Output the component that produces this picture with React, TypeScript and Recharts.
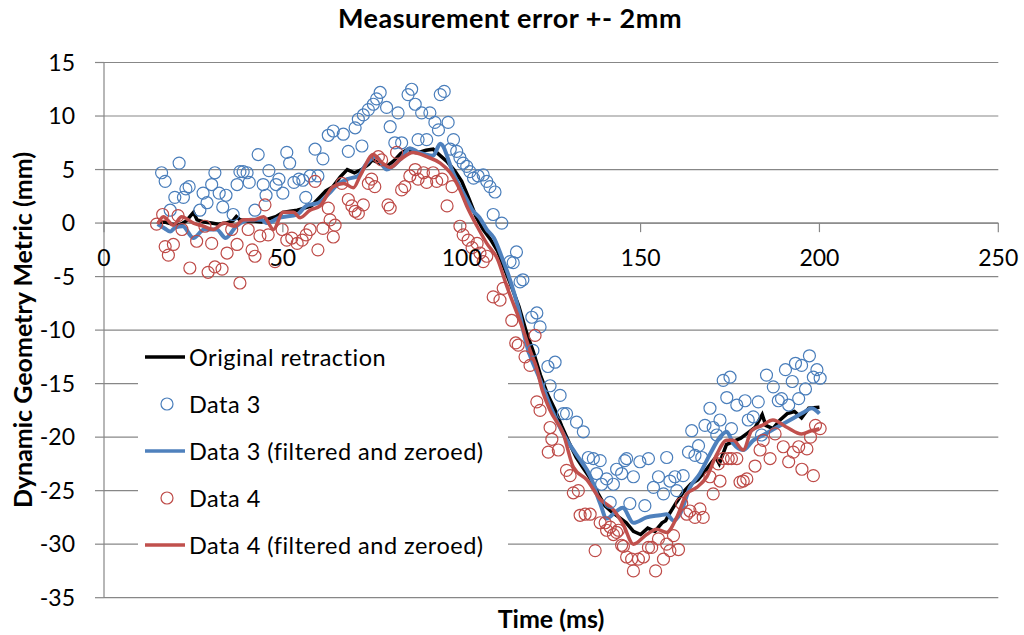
import React from "react";
import {
  ComposedChart,
  Line,
  Scatter,
  XAxis,
  YAxis,
  CartesianGrid,
  Legend,
  ReferenceLine,
  ReferenceDot,
} from "recharts";

// [time (ms), metric (mm)]
const originalRetraction: [number, number][] = [
  [15, 0], [17, 0.1], [19, -0.1], [21, -0.2], [23, 0.2], [25, 1.0], [26, 0.3], [28, 0.1], [30, 0], [32, -0.1],
  [34, 0], [36, 0.2], [37, 0.6], [38, 0.3], [40, 0.2], [42, 0.2], [44, 0.1], [46, 0.4], [48, 0.6], [50, 1.0],
  [52, 1.1], [54, 1.2], [56, 1.4], [58, 1.6], [60, 2.3], [62, 3.0], [64, 3.4], [66, 4.3], [68, 5.0], [70, 4.7],
  [72, 5.0], [74, 5.5], [75, 5.9], [77, 5.6], [79, 5.3], [81, 5.8], [83, 6.5], [85, 6.9], [87, 6.6], [88, 6.6],
  [90, 6.8], [92, 6.9], [94, 6.3], [96, 5.7], [98, 4.9], [100, 3.9], [102, 2.3], [104, 0.6], [106, -0.6], [108, -1.5],
  [110, -2.6], [112, -4.3], [114, -6.0], [116, -7.8], [118, -10.1], [120, -12.0], [122, -14.2], [124, -16.0], [126, -17.4], [128, -19.0],
  [130, -20.5], [132, -21.9], [134, -22.9], [136, -23.9], [138, -25.2], [140, -26.4], [142, -27.0], [144, -27.5], [146, -28.0], [148, -28.8],
  [150, -29.1], [152, -28.5], [154, -28.8], [156, -28.0], [157, -27.8], [158, -27.2], [160, -26.1], [162, -25.1], [164, -24.4], [166, -24.0],
  [168, -23.2], [170, -22.3], [171, -21.9], [172, -22.5], [174, -20.7], [176, -20.4], [178, -20.1], [180, -19.6], [182, -19.1], [184, -17.9],
  [185, -18.9], [187, -19.2], [189, -18.4], [191, -17.8], [193, -17.6], [195, -18.2], [197, -17.3], [200, -17.2],
];

const data3: [number, number][] = [
  [16.1, 4.7], [17.1, 3.9], [18.5, 1.2], [19.8, 2.4], [21.0, 5.6], [22.2, 2.4], [22.9, 3.2], [23.8, 3.4], [26.8, 1.2], [27.7, 2.8],
  [28.8, 1.9], [30.1, 3.6], [31.0, 4.7], [32.2, 2.8], [33.2, 1.5], [34.1, 2.6], [36.1, 0.8], [37.2, 3.6], [38.0, 4.8], [38.9, 4.8],
  [40.0, 4.7], [40.6, 3.8], [42.2, 1.2], [43.1, 6.4], [44.5, 3.6], [45.3, 2.6], [46.1, 4.9], [48.1, 3.6], [48.9, 4.1], [50.0, 2.8],
  [51.1, 6.6], [51.9, 5.6], [53.1, 3.8], [54.5, 4.1], [55.6, 4.0], [56.4, 2.4], [57.6, 4.4], [59.0, 6.9], [59.8, 4.4], [61.2, 6.0],
  [62.7, 8.2], [64.1, 8.6], [66.9, 8.3], [68.3, 6.7], [70.2, 8.9], [71.1, 9.7], [72.1, 7.2], [72.5, 10.1], [73.9, 10.6], [75.3, 11.1],
  [76.2, 11.6], [77.2, 12.2], [79.0, 10.8], [80.0, 9.0], [81.3, 7.5], [82.2, 10.3], [83.2, 7.5], [85.0, 12.0], [86.0, 12.5], [87.0, 11.1],
  [87.8, 7.8], [88.8, 10.3], [90.2, 7.8], [91.1, 10.3], [92.5, 9.4], [93.5, 8.7], [94.0, 12.0], [95.1, 12.3], [96.2, 9.4], [96.8, 6.9],
  [97.7, 7.8], [98.6, 6.7], [99.5, 6.1], [100.4, 5.6], [101.4, 5.3], [102.3, 4.8], [103.3, 4.2], [104.6, 4.4], [106.0, 4.5], [107.0, 3.9],
  [107.9, 3.4], [108.8, 0.8], [109.3, 2.9], [111.2, 0], [113.5, -3.6], [114.4, -3.7], [115.3, -2.7], [116.3, -5.5], [117.1, -5.3], [119.6, -8.8],
  [119.9, -11.9], [121.0, -8.4], [121.9, -9.7], [124.1, -13.4], [124.7, -15.2], [126.1, -13.0], [127.5, -16.1], [128.4, -17.8], [129.3, -17.8], [132.1, -18.6],
  [134.0, -19.5], [135.4, -21.9], [136.8, -22.0], [137.7, -23.4], [138.7, -22.2], [139.1, -24.4], [140.5, -23.9], [141.5, -26.1], [142.4, -24.4], [143.3, -23.0],
  [144.7, -23.4], [145.6, -22.2], [146.1, -22.0], [147.0, -26.2], [148.0, -23.7], [149.8, -22.3], [151.2, -26.4], [152.2, -22.0], [153.6, -24.7], [155.0, -23.7],
  [156.4, -25.3], [157.3, -21.9], [158.2, -24.1], [159.6, -23.7], [160.1, -25.0], [161.9, -23.6], [163.4, -21.4], [164.3, -19.4], [165.2, -21.7], [166.2, -20.8],
  [167.1, -21.9], [168.0, -18.9], [169.4, -17.3], [170.3, -19.1], [171.3, -19.8], [172.2, -18.4], [173.1, -14.7], [174.1, -16.3], [175.0, -14.4], [175.4, -19.2],
  [176.9, -17.0], [179.2, -16.6], [180.1, -18.4], [181.5, -18.1], [182.9, -16.7], [183.8, -19.8], [185.2, -14.2], [187.1, -15.3], [188.5, -16.6], [189.4, -16.4],
  [190.5, -13.7], [191.4, -17.0], [192.4, -14.8], [193.3, -13.1], [194.2, -16.4], [195.0, -13.3], [196.1, -15.5], [197.2, -12.4], [198.3, -14.4], [199.3, -13.7],
  [200.2, -14.5],
];

const data3Filtered: [number, number][] = [
  [15, -0.1], [17, -0.5], [18.5, -0.8], [20, -0.4], [22, -0.3], [25, -1.4], [28, -0.6], [31.5, -0.6], [34, -1.4], [37, -0.3],
  [41, 0.3], [44, 0.3], [45.5, 0], [49, 0.5], [54, 0.8], [56.5, 1.6], [60, 1.9], [63, 2.8], [65, 3.5], [68, 4.1],
  [71, 4.4], [73.5, 5.6], [76, 6.2], [79, 5.0], [82.7, 5.9], [85.5, 7.0], [88, 6.6], [92, 6.3], [94, 7.4], [97.6, 4.7],
  [101.4, 2.2], [103, 1.2], [105, 0.5], [107, -0.6], [109, -1.4], [111, -3.0], [113, -4.8], [116, -8.2], [118, -11.2], [122, -14.7],
  [125, -17.3], [128.4, -19.7], [132, -21.6], [136, -23.7], [138.7, -26.2], [140.5, -27.6], [143.3, -26.9], [145, -26.6], [148, -28.0], [151.7, -27.5],
  [155.4, -27.3], [157.3, -27.2], [159.2, -27.8], [161, -27.2], [163.8, -24.7], [166.6, -23.4], [169.4, -21.6], [172.2, -20.0], [174.1, -19.5], [175.9, -20.6],
  [178.7, -21.2], [181.5, -20.3], [184.3, -19.8], [188, -19.1], [191.8, -18.4], [195.5, -17.7], [197.8, -17.3], [200, -17.8],
];

const data4: [number, number][] = [
  [14.7, -0.1], [16.4, 0.8], [17.1, -2.2], [18.0, -3.0], [19.4, -2.0], [20.7, 0.7], [21.8, -0.6], [24.0, -4.2], [25.9, -1.7], [28.2, -0.3],
  [29.1, -4.6], [30.1, -1.9], [31.0, -4.1], [33.0, -4.3], [34.4, -2.8], [35.7, -0.6], [37.2, -2.0], [38.0, -5.6], [40.3, -0.6], [41.4, -2.5],
  [42.2, -3.1], [43.6, -1.2], [45.0, 1.7], [45.9, -1.1], [47.8, -3.6], [49.8, -0.6], [51.1, -1.6], [52.5, -1.4], [54.0, -1.9], [55.4, -1.6],
  [56.5, -1.1], [57.6, -0.6], [59.0, 3.9], [59.8, -2.5], [61.2, -0.5], [62.7, 1.4], [63.2, 0.3], [64.1, -1.3], [64.6, -0.2], [66.5, 3.7],
  [68.3, 2.2], [69.3, 1.6], [70.2, 1.1], [71.1, 0.9], [72.5, 1.7], [73.9, 3.7], [74.8, 4.1], [75.7, 3.4], [76.7, 6.2], [77.6, 5.9],
  [79.4, 1.7], [80.0, 1.4], [81.8, 6.6], [83.2, 3.1], [84.1, 3.4], [85.5, 4.4], [87.0, 5.0], [87.8, 4.1], [89.3, 4.7], [90.2, 3.8],
  [92.0, 4.7], [93.0, 3.9], [94.5, 4.1], [95.9, 1.6], [97.3, 3.4], [99.5, -0.3], [100.4, -1.1], [101.8, -1.6], [102.9, -2.3], [104.3, -1.9],
  [105.1, -2.8], [106.0, -3.6], [107.0, -3.1], [108.8, -6.9], [110.7, -7.2], [111.6, -6.1], [114.0, -9.1], [115.1, -11.2], [115.8, -11.4], [117.7, -12.5],
  [119.1, -13.3], [120.5, -10.5], [121.0, -16.7], [121.9, -17.5], [124.2, -21.4], [124.7, -19.1], [125.2, -20.2], [127.0, -21.2], [129.3, -23.1], [130.3, -23.6],
  [131.2, -25.2], [132.6, -25.0], [133.1, -27.3], [134.5, -27.2], [135.9, -27.2], [137.3, -30.6], [138.7, -28.0], [140.1, -28.0], [140.5, -28.7], [141.5, -28.4],
  [142.4, -29.1], [143.3, -28.9], [143.8, -28.7], [144.7, -30.1], [145.2, -30.2], [146.1, -31.2], [147.5, -31.4], [148.0, -32.5], [149.4, -31.4], [150.8, -31.2],
  [152.2, -30.3], [153.1, -30.3], [154.2, -32.5], [155.0, -29.5], [156.4, -31.4], [157.3, -30.0], [158.2, -30.6], [159.2, -29.2], [160.6, -30.5], [161.5, -26.2],
  [162.9, -27.2], [163.8, -26.9], [165.2, -27.5], [166.6, -26.7], [167.5, -27.5], [169.4, -23.7], [170.3, -25.3], [171.7, -22.5], [172.2, -24.1], [173.1, -22.0],
  [174.5, -22.0], [175.4, -22.0], [176.9, -22.0], [177.8, -24.2], [178.7, -24.1], [179.7, -23.9], [182.0, -22.7], [183.4, -21.2], [184.3, -20.3], [186.2, -22.0],
  [187.6, -19.7], [189.9, -20.9], [191.4, -22.3], [192.7, -21.4], [194.2, -20.9], [195.1, -23.0], [196.5, -21.1], [197.5, -20.0], [198.3, -23.6], [198.9, -18.9],
  [200.2, -19.2],
];

const data4Filtered: [number, number][] = [
  [15, -0.1], [16.6, 0.6], [19.4, -0.2], [21.7, 0.6], [25, 0], [27.8, -0.3], [30.6, -0.6], [33.5, 0], [36.4, -0.3], [39, 0.3],
  [41.8, 0.3], [44.6, 0.6], [47.4, -0.6], [50, 1.0], [53, 1.0], [54.8, 0.5], [57.6, 1.2], [60.4, 1.6], [64, 3.4], [67, 3.7],
  [69.7, 3.3], [71.6, 4.4], [75.3, 6.4], [77.2, 5.8], [80, 5.2], [82.7, 5.9], [86.4, 6.6], [90.2, 6.2], [94, 5.6], [96.8, 4.7],
  [99.5, 3.1], [101.4, 1.6], [104.3, -0.3], [107, -1.9], [109.9, -3.3], [112.6, -5.9], [117.2, -10.0], [119, -11.8], [121, -13.6], [122.5, -15.6],
  [124.7, -17.5], [128.4, -19.7], [131.2, -22.8], [135, -24.0], [138.7, -25.8], [142.4, -26.8], [145.2, -28.2], [148, -30.0], [151.7, -29.1], [154.5, -28.6],
  [157.3, -28.9], [160.1, -27.5], [162.9, -25.3], [165.7, -24.7], [168.5, -23.7], [171.3, -21.6], [174.1, -20.3], [175.9, -20.3], [178.7, -21.2], [181, -19.4],
  [184, -18.9], [187, -18.4], [191, -19.1], [195, -19.7], [197.7, -19.4], [200, -19.2],
];

const xTicks = [0, 50, 100, 150, 200, 250];
const yTicks = [-35, -30, -25, -20, -15, -10, -5, 0, 5, 10, 15];

const BLUE = "#4A7EBB";
const RED = "#BE4B48";
const GRID = "#878787";
const FONT = "Lato, 'Open Sans', sans-serif";
const TICK_SIZE = 23;

const toRows = (pts: [number, number][]) => pts.map(([t, v]) => ({ t, v }));

const ring = (color: string) => (props: any) => (
  <circle cx={props.cx} cy={props.cy} r={6} fill="none" stroke={color} strokeWidth={1.2} />
);

const legendItems = [
  { label: "Original retraction", kind: "line", color: "#000000" },
  { label: "Data 3", kind: "ring", color: BLUE },
  { label: "Data 3 (filtered and zeroed)", kind: "line", color: "#4F81BD" },
  { label: "Data 4", kind: "ring", color: RED },
  { label: "Data 4 (filtered and zeroed)", kind: "line", color: "#C0504D" },
];

function renderLegend() {
  return (
    <div style={{ background: "#fff", width: 370, height: 226, fontFamily: FONT, fontSize: 23.5, letterSpacing: 0.5, color: "#000" }}>
      {legendItems.map((it, i) => (
        <div key={it.label} style={{ position: "absolute", left: 0, top: 19 + i * 47 - 15, height: 30, display: "flex", alignItems: "center" }}>
          <svg width={50} height={30} style={{ display: "block" }}>
            {it.kind === "line" ? (
              <line x1={7} y1={15} x2={47} y2={15} stroke={it.color} strokeWidth={3.5} />
            ) : (
              <circle cx={29} cy={15} r={6} fill="none" stroke={it.color} strokeWidth={1.2} />
            )}
          </svg>
          <span style={{ marginLeft: 1, whiteSpace: "nowrap" }}>{it.label}</span>
        </div>
      ))}
    </div>
  );
}

export default function App() {
  return (
    <div style={{ position: "absolute", left: 0, top: 0, width: 1024, height: 635, background: "#fff", fontFamily: FONT }}>
      <div
        style={{
          position: "absolute",
          top: 4,
          left: 0,
          width: 1020,
          textAlign: "center",
          fontWeight: 700,
          fontSize: 27,
          lineHeight: "27px",
          letterSpacing: 0.5,
        }}
      >
        Measurement error +- 2mm
      </div>
      <div
        style={{
          position: "absolute",
          left: 22,
          top: 330,
          transform: "translate(-50%, -50%) rotate(-90deg)",
          whiteSpace: "nowrap",
          fontWeight: 700,
          fontSize: 25,
        }}
      >
        Dynamic Geometry Metric (mm)
      </div>
      <div style={{ position: "absolute", left: 551, top: 618, transform: "translate(-50%, -50%)", fontWeight: 700, fontSize: 25, whiteSpace: "nowrap" }}>
        Time (ms)
      </div>
      <ComposedChart width={1024} height={635} margin={{ top: 62.5, right: 25.7, bottom: 37.3, left: 0 }}>
        <CartesianGrid horizontal vertical={false} stroke={GRID} strokeWidth={1.2} />
        <XAxis dataKey="t" type="number" domain={[0, 250]} ticks={xTicks} hide allowDataOverflow />
        <YAxis
          dataKey="v"
          type="number"
          domain={[-35, 15]}
          ticks={yTicks}
          width={104}
          axisLine={{ stroke: GRID, strokeWidth: 1.2 }}
          tickLine={{ stroke: GRID, strokeWidth: 1.2 }}
          tickSize={9}
          tickMargin={20}
          tick={{ fill: "#000", fontSize: TICK_SIZE, fontFamily: FONT }}
          allowDataOverflow
        />
        <ReferenceLine y={0} stroke={GRID} strokeWidth={1.2} />
        {xTicks.map((x) => (
          <ReferenceLine
            key={`tk${x}`}
            segment={[{ x, y: 0 }, { x, y: -0.85 }]}
            stroke={GRID}
            strokeWidth={1.2}
          />
        ))}
        {xTicks.map((x) => (
          <ReferenceDot
            key={`lb${x}`}
            x={x}
            y={0}
            r={1}
            fill="none"
            stroke="none"
            label={{ value: String(x), position: "bottom", offset: 26, fill: "#000", fontSize: TICK_SIZE, fontFamily: FONT }}
          />
        ))}
        <Line
          data={toRows(originalRetraction)}
          dataKey="v"
          type="linear"
          stroke="#000000"
          strokeWidth={3.5}
          dot={false}
          isAnimationActive={false}
        />
        <Scatter data={toRows(data3)} dataKey="v" shape={ring(BLUE)} isAnimationActive={false} />
        <Line
          data={toRows(data3Filtered)}
          dataKey="v"
          type="monotone"
          stroke="#4F81BD"
          strokeWidth={4}
          dot={false}
          isAnimationActive={false}
        />
        <Scatter data={toRows(data4)} dataKey="v" shape={ring(RED)} isAnimationActive={false} />
        <Line
          data={toRows(data4Filtered)}
          dataKey="v"
          type="monotone"
          stroke="#C0504D"
          strokeWidth={3.5}
          dot={false}
          isAnimationActive={false}
        />
        <Legend
          content={renderLegend}
          layout="vertical"
          align="center"
          verticalAlign="middle"
          wrapperStyle={{ left: 138, top: 338, width: 370, height: 226 }}
        />
      </ComposedChart>
    </div>
  );
}
